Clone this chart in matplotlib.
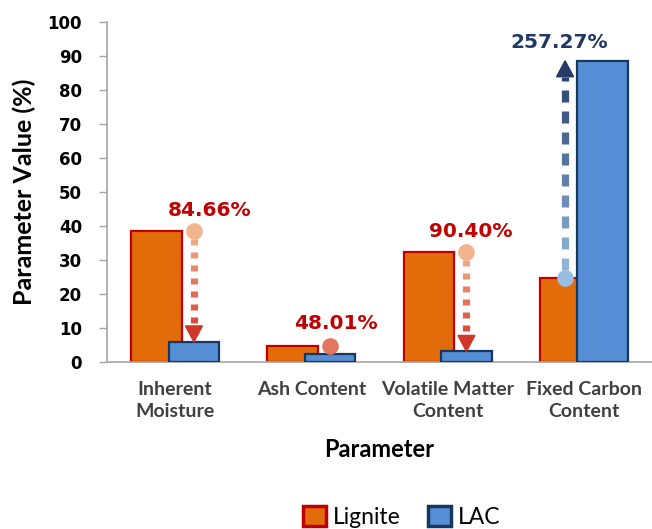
import numpy as np
import matplotlib
matplotlib.use("Agg")
import matplotlib.pyplot as plt
from matplotlib.patches import Patch, Polygon
from matplotlib.colors import to_rgb

# proximate analysis, lignite vs lignite-derived activated carbon
categories = ["Inherent\nMoisture", "Ash Content", "Volatile Matter\nContent", "Fixed Carbon\nContent"]
lignite = [38.5, 4.7, 32.3, 24.8]
pct_change = [-84.66, -48.01, -90.40, 257.27]
lac = [v * (1 + p / 100) for v, p in zip(lignite, pct_change)]
yticks = [0, 10, 20, 30, 40, 50, 60, 70, 80, 90, 100]

LIG_FACE, LIG_EDGE = "#E36C0A", "#C00000"
LAC_FACE, LAC_EDGE = "#558ED5", "#17375E"
DOWN_START, DOWN_END = "#F6BE95", "#CF3327"
UP_START, UP_END = "#9DC3E6", "#1F3864"

W, H, DPI = 652, 529, 100
fig = plt.figure(figsize=(W / DPI, H / DPI), dpi=DPI)
ax = fig.add_axes([107 / W, 1 - 362 / H, 545 / W, 340 / H])

x = np.arange(len(categories))
off, bw = 0.138, 0.37
ax.bar(x - off, lignite, bw, color=LIG_FACE, edgecolor=LIG_EDGE, linewidth=1.6, zorder=2)
ax.bar(x + off, lac, bw, color=LAC_FACE, edgecolor=LAC_EDGE, linewidth=1.6, zorder=3)

ax.set_xlim(-0.5, 3.5)
ax.set_ylim(0, 100)
ax.set_yticks(yticks)
ax.set_xticks(x)
ax.set_xticklabels(categories, family="Lato", fontweight="bold", fontsize=14, color="#404040",
                   linespacing=1.3)
for lab in ax.get_yticklabels():
    lab.set_family("DejaVu Sans")
    lab.set_fontweight("bold")
    lab.set_fontsize(12)
ax.tick_params(axis="y", length=6, width=1, color="#A6A6A6", pad=12)
ax.tick_params(axis="x", length=0, pad=14)
for s in ["top", "right"]:
    ax.spines[s].set_visible(False)
for s in ["left", "bottom"]:
    ax.spines[s].set_color("#A6A6A6")
    ax.spines[s].set_linewidth(1.2)

ax.set_ylabel("Parameter Value (%)", family="Lato", fontweight="bold", fontsize=18, labelpad=8)
ax.set_xlabel("Parameter", family="Lato", fontweight="bold", fontsize=17, labelpad=13)

# pixel -> data scale
px_x = 4.0 / 545
px_y = 100.0 / 340


def mix(c0, c1, t):
    a, b = np.array(to_rgb(c0)), np.array(to_rgb(c1))
    t = min(max(t, 0), 1)
    return tuple(a + (b - a) * t)


def change_arrow(xc, y0, y1, c0, c1, dash, gap):
    s = np.sign(y1 - y0)
    r = 8 * px_y
    head_h, head_w = 16 * px_y, 17 * px_x
    y_from = y0 - s * r
    span = abs(y1 - y_from)
    frac = lambda y: abs(y - y_from) / span
    line_end = y1 - s * head_h
    # too short for a shaft and head: only the marker shows
    if s * (line_end - y0) > r:
        pos = y0 + s * r
        while s * (line_end - pos) > 0:
            stop = pos + s * min(dash * px_y, abs(line_end - pos))
            ax.plot([xc, xc], [pos, stop], color=mix(c0, c1, frac((pos + stop) / 2)),
                    lw=5.2, solid_capstyle="butt", zorder=5)
            pos = stop + s * gap * px_y
        ax.add_patch(Polygon([[xc - head_w / 2, line_end], [xc + head_w / 2, line_end], [xc, y1]],
                             closed=True, color=mix(c0, c1, 0.97), zorder=5))
    ax.plot(xc, y0, "o", ms=12, mec="none", color=mix(c0, c1, frac(y0)), zorder=6)


label_nudge = [(11, 15), (4, 16), (3, 15), (-4, 13)]
for i in range(len(categories)):
    if pct_change[i] < 0:
        xc = x[i] + off
        change_arrow(xc, lignite[i], lac[i], DOWN_START, DOWN_END, 6, 7)
        ytop, col = lignite[i], "#C00000"
    else:
        xc = x[i] - off
        change_arrow(xc, lignite[i], lac[i], UP_START, UP_END, 12, 9)
        ytop, col = lac[i], "#1F3864"
    ax.annotate(f"{abs(pct_change[i]):.2f}%", (xc, ytop), xytext=label_nudge[i],
                textcoords="offset points", ha="center", va="center",
                family="DejaVu Sans", fontweight="bold", fontsize=14.5, color=col, zorder=7)

handles = [Patch(facecolor=LIG_FACE, edgecolor=LIG_EDGE, linewidth=2.5, label="Lignite"),
           Patch(facecolor=LAC_FACE, edgecolor=LAC_EDGE, linewidth=2.5, label="LAC")]
fig.legend(handles=handles, loc="center", bbox_to_anchor=(402 / W, 1 - 517 / H), ncol=2,
           frameon=False, prop={"family": "Lato", "size": 16.5},
           handlelength=1.0, handleheight=1.0, handletextpad=0.3, columnspacing=1.2)

fig.savefig("out.png", dpi=DPI)
